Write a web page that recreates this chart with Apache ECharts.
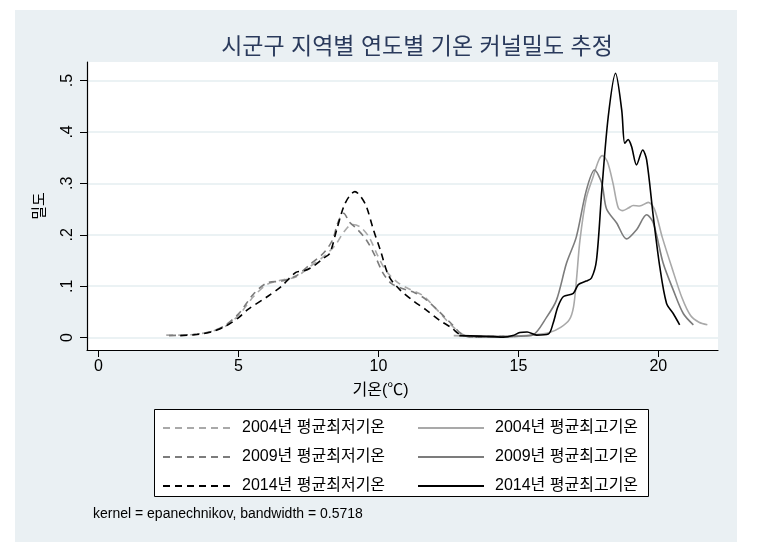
<!DOCTYPE html>
<html>
<head>
<meta charset="utf-8">
<script src="https://cdn.jsdelivr.net/npm/echarts@6/dist/echarts.min.js"></script>
<style>
  html, body { margin: 0; padding: 0; background: #fff; }
  #chart { width: 760px; height: 560px; }
</style>
</head>
<body>
<div id="chart"></div>
<script>
// kernel density estimates: [temperature, density]
const low2004 = [
  [2.42, 0.005], [3.02, 0.005], [3.52, 0.007], [4.03, 0.012], [4.53, 0.022], [5.03, 0.045],
  [5.54, 0.080], [6.04, 0.104], [6.54, 0.112], [7.05, 0.118], [7.55, 0.138], [8.05, 0.158],
  [8.46, 0.180], [8.76, 0.205], [9.06, 0.220], [9.36, 0.215], [9.67, 0.195], [9.97, 0.160],
  [10.27, 0.130], [10.67, 0.108], [11.08, 0.095], [11.58, 0.082], [12.08, 0.055], [12.59, 0.025],
  [13.09, 0.004], [13.59, 0.001], [14.1, 0.002], [14.6, 0.002], [15.1, 0.003], [15.4, 0.003]
];
const low2009 = [
  [2.52, 0.004], [3.02, 0.005], [3.52, 0.007], [4.03, 0.012], [4.53, 0.024], [5.03, 0.048],
  [5.54, 0.085], [6.04, 0.107], [6.54, 0.110], [7.05, 0.120], [7.55, 0.142], [8.05, 0.165],
  [8.36, 0.190], [8.56, 0.225], [8.76, 0.242], [8.96, 0.225], [9.26, 0.210], [9.57, 0.190],
  [9.87, 0.160], [10.17, 0.125], [10.47, 0.105], [10.88, 0.095], [11.28, 0.088], [11.68, 0.075],
  [12.18, 0.050], [12.59, 0.028], [13.09, 0.003], [13.59, 0.001], [14.1, 0.002], [14.6, 0.002],
  [15.0, 0.003]
];
const low2014 = [
  [2.92, 0.004], [3.52, 0.006], [4.03, 0.011], [4.53, 0.022], [5.03, 0.040], [5.34, 0.055],
  [6.04, 0.080], [6.54, 0.100], [7.05, 0.127], [7.35, 0.130], [7.65, 0.138], [8.05, 0.155],
  [8.26, 0.164], [8.51, 0.210], [8.76, 0.255], [8.96, 0.275], [9.16, 0.284], [9.36, 0.275],
  [9.57, 0.255], [9.82, 0.210], [10.07, 0.170], [10.37, 0.120], [10.77, 0.093], [11.28, 0.070],
  [11.68, 0.055], [12.18, 0.034], [12.59, 0.020], [12.99, 0.004], [13.59, 0.002], [14.1, 0.002],
  [14.5, 0.002]
];
const high2004 = [
  [12.69, 0.004], [13.29, 0.003], [14.1, 0.002], [14.9, 0.003], [15.51, 0.005], [16.11, 0.010],
  [16.51, 0.020], [16.82, 0.035], [16.97, 0.060], [17.07, 0.110], [17.2, 0.190], [17.42, 0.270],
  [17.67, 0.313], [17.87, 0.345], [18.0, 0.354], [18.18, 0.342], [18.38, 0.300], [18.57, 0.252],
  [18.73, 0.247], [18.93, 0.252], [19.1, 0.257], [19.33, 0.256], [19.64, 0.263], [19.86, 0.250],
  [20.14, 0.195], [20.49, 0.135], [20.84, 0.078], [21.15, 0.043], [21.45, 0.030], [21.75, 0.025]
];
const high2009 = [
  [13.09, 0.003], [14.1, 0.002], [15.1, 0.003], [15.51, 0.005], [16.01, 0.040], [16.36, 0.073],
  [16.72, 0.145], [17.07, 0.196], [17.42, 0.285], [17.72, 0.326], [17.98, 0.300], [18.15, 0.250],
  [18.51, 0.223], [18.86, 0.192], [19.22, 0.210], [19.58, 0.239], [19.82, 0.223], [20.17, 0.145],
  [20.53, 0.093], [20.89, 0.047], [21.25, 0.025]
];
const high2014 = [
  [12.89, 0.004], [13.59, 0.003], [14.1, 0.002], [14.46, 0.001], [14.8, 0.004], [15.05, 0.010],
  [15.31, 0.011], [15.65, 0.005], [16.07, 0.007], [16.24, 0.028], [16.41, 0.060], [16.61, 0.080],
  [16.96, 0.086], [17.14, 0.103], [17.42, 0.110], [17.61, 0.116], [17.79, 0.151], [17.98, 0.287],
  [18.21, 0.430], [18.47, 0.514], [18.69, 0.443], [18.8, 0.378], [18.92, 0.385], [19.04, 0.372],
  [19.22, 0.336], [19.44, 0.365], [19.58, 0.346], [19.82, 0.235], [20.05, 0.138], [20.29, 0.067],
  [20.53, 0.047], [20.76, 0.025]
];

const xTicks = [0, 5, 10, 15, 20];
const yTicks = [0, 0.1, 0.2, 0.3, 0.4, 0.5];
const lowNames = ['2004년 평균최저기온', '2009년 평균최저기온', '2014년 평균최저기온'];
const highNames = ['2004년 평균최고기온', '2009년 평균최고기온', '2014년 평균최고기온'];
const yearColors = ['#a9a9a9', '#7c7c7c', '#000000'];

const FONT = "'Liberation Sans', 'Noto Sans CJK KR', sans-serif";

const chart = echarts.init(document.getElementById('chart'));

function makeSeries(name, data, color, dashed) {
  return {
    name: name,
    type: 'line',
    data: data,
    smooth: 0.3,
    symbol: 'none',
    lineStyle: { color: color, width: 1.6, type: dashed ? [7, 5] : 'solid' },
    itemStyle: { color: color },
    emphasis: { disabled: true }
  };
}

const series = [
  makeSeries(lowNames[0], low2004, yearColors[0], true),
  makeSeries(lowNames[1], low2009, yearColors[1], true),
  makeSeries(lowNames[2], low2014, yearColors[2], true),
  makeSeries(highNames[0], high2004, yearColors[0], false),
  makeSeries(highNames[1], high2009, yearColors[1], false),
  makeSeries(highNames[2], high2014, yearColors[2], false)
];

const legendBase = {
  orient: 'vertical',
  top: 420,
  padding: 0,
  itemHeight: 14,
  itemGap: 13,
  selectedMode: false,
  itemStyle: { opacity: 0 },
  textStyle: { fontFamily: FONT, fontSize: 16, color: '#000', padding: [0, 0, 0, 6] }
};

chart.setOption({
  backgroundColor: '#ffffff',
  animation: false,
  textStyle: { fontFamily: FONT },
  title: {
    text: '시군구 지역별 연도별 기온 커널밀도 추정',
    left: 412,
    textAlign: 'center',
    top: 31,
    textStyle: { fontFamily: FONT, fontSize: 23, fontWeight: 'normal', color: '#2a3a5c' }
  },
  graphic: [
    { type: 'rect', z: -1, shape: { x: 15, y: 10, width: 722, height: 532 }, style: { fill: '#eaf0f3' } },
    { type: 'rect', z: 1, shape: { x: 154.5, y: 409.5, width: 494, height: 87 },
      style: { fill: '#ffffff', stroke: '#000', lineWidth: 1 } },
    { type: 'text', z: 1, left: 93, top: 507,
      style: { text: 'kernel = epanechnikov, bandwidth = 0.5718', fontFamily: FONT, fontSize: 14, fill: '#000' } }
  ],
  legend: [
    Object.assign({}, legendBase, { left: 162, itemWidth: 68, data: lowNames }),
    Object.assign({}, legendBase, { left: 417, itemWidth: 66, data: highNames })
  ],
  grid: {
    left: 87, right: 42, top: 62, bottom: 210,
    show: true, backgroundColor: '#ffffff', borderWidth: 0
  },
  xAxis: {
    type: 'value',
    min: -0.41,
    max: 22.13,
    name: '기온(℃)',
    nameLocation: 'middle',
    nameGap: 33,
    nameTextStyle: { fontFamily: FONT, fontSize: 16, color: '#000', padding: [0, 44, 0, 0] },
    axisLine: { show: true, onZero: false, lineStyle: { color: '#000', width: 1.2 } },
    axisTick: { show: true, length: 7, customValues: xTicks, lineStyle: { color: '#000' } },
    axisLabel: { customValues: xTicks, fontFamily: FONT, fontSize: 16, color: '#000', margin: 9 },
    splitLine: { show: false }
  },
  yAxis: {
    type: 'value',
    min: -0.024,
    max: 0.536,
    name: '밀도',
    nameLocation: 'middle',
    nameGap: 40,
    nameTextStyle: { fontFamily: FONT, fontSize: 15, color: '#000' },
    axisLine: { show: true, onZero: false, lineStyle: { color: '#000', width: 1.2 } },
    axisTick: { show: true, length: 7, customValues: yTicks, lineStyle: { color: '#000' } },
    axisLabel: {
      customValues: yTicks,
      rotate: 90,
      fontFamily: FONT,
      fontSize: 16,
      color: '#000',
      margin: 11,
      formatter: v => (v === 0 ? '0' : String(v).replace(/^0\./, '.'))
    },
    splitLine: { show: true, lineStyle: { color: '#e4eef0', width: 1.5 } }
  },
  series: series
});
</script>
</body>
</html>
